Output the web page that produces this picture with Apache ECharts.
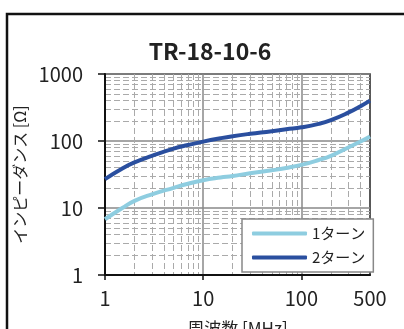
<!DOCTYPE html>
<html>
<head>
<meta charset="utf-8">
<script src="https://cdn.jsdelivr.net/npm/echarts@6/dist/echarts.min.js"></script>
<style>
  html, body { margin: 0; padding: 0; background: #fff; }
  #chart { width: 404px; height: 329px; }
</style>
</head>
<body>
<div id="chart"></div>
<script>
// 周波数 [MHz]
var freq = [1, 1.5, 2, 3, 5, 7, 10, 15, 20, 30, 50, 70, 100, 150, 200, 300, 400, 500];
// インピーダンス [Ω]
var turn1 = [6.8, 10, 12.8, 16, 20, 23, 26, 28.5, 30, 33, 36.5, 39.5, 44, 52, 60, 80, 98, 117];
var turn2 = [27, 39, 48, 60, 77, 87, 98, 110, 118, 128, 140, 150, 160, 180, 205, 265, 330, 400];

var xMajor = [1, 10, 100];
var xLabels = [1, 10, 100, 500];
var xMinor = [2, 3, 4, 5, 6, 7, 8, 9, 20, 30, 40, 50, 60, 70, 80, 90, 200, 300, 400];
var yMajor = [1, 10, 100, 1000];
var yMinor = [2, 3, 4, 5, 6, 7, 8, 9, 20, 30, 40, 50, 60, 70, 80, 90, 200, 300, 400, 500, 600, 700, 800, 900];

var font = '"Noto Sans CJK JP", "Noto Sans", sans-serif';

function pairs(xs, ys) {
    return xs.map(function (x, i) { return [x, ys[i]]; });
}

function plain(v) {
    return String(v);
}

var myChart = echarts.init(document.getElementById('chart'));

var option = {
    animation: false,
    title: {
        text: 'TR-18-10-6',
        left: 205,
        top: 35,
        textAlign: 'center',
        textStyle: { fontFamily: font, fontSize: 23, fontWeight: 'bold', color: '#222' }
    },
    graphic: [{
        type: 'rect',
        shape: { x: 7, y: 14, width: 500, height: 400 },
        style: { fill: 'none', stroke: '#111', lineWidth: 2.5 },
        silent: true
    }],
    grid: {
        left: 105, right: 34, top: 74, bottom: 54,
        outerBoundsMode: 'none',
        containLabel: false,
        show: true, borderColor: '#222', borderWidth: 1.5
    },
    legend: {
        orient: 'vertical',
        left: 242,
        top: 219,
        backgroundColor: '#fff',
        borderColor: '#888',
        borderWidth: 1.5,
        borderRadius: 0,
        padding: [7, 8, 7, 10],
        itemGap: 9,
        itemWidth: 55,
        itemHeight: 4,
        icon: 'roundRect',
        textStyle: { fontFamily: font, fontSize: 15, color: '#222' },
        data: ['1ターン', '2ターン']
    },
    xAxis: [{
        type: 'log',
        min: 1,
        max: 500,
        name: '周波数 [MHz]',
        nameLocation: 'middle',
        nameGap: 45,
        nameTextStyle: { fontFamily: font, fontSize: 17, color: '#222' },
        axisLine: { lineStyle: { color: '#111', width: 2 } },
        axisTick: { show: true, length: 5, lineStyle: { color: '#111', width: 1.5 }, customValues: xMajor },
        axisLabel: { fontFamily: font, fontSize: 20, color: '#222', margin: 13, customValues: xLabels, formatter: plain },
        splitLine: { show: true, lineStyle: { color: '#888', width: 1.5 } }
    }, {
        type: 'log',
        min: 1,
        max: 500,
        axisLine: { show: false },
        axisTick: { show: false, customValues: xMinor },
        axisLabel: { show: false, customValues: xMinor },
        splitLine: { show: true, lineStyle: { color: '#aaa', width: 1, type: [6, 3] } }
    }],
    yAxis: [{
        type: 'log',
        min: 1,
        max: 1000,
        name: 'インピーダンス [Ω]',
        nameLocation: 'middle',
        nameGap: 72,
        nameTextStyle: { fontFamily: font, fontSize: 16, color: '#222' },
        axisLine: { show: true, lineStyle: { color: '#111', width: 2 } },
        axisTick: { show: true, length: 7, lineStyle: { color: '#111', width: 1.5 }, customValues: yMajor },
        axisLabel: { fontFamily: font, fontSize: 20, color: '#222', margin: 22, customValues: yMajor, formatter: plain },
        splitLine: { show: true, lineStyle: { color: '#888', width: 1.5 } }
    }, {
        type: 'log',
        min: 1,
        max: 1000,
        axisLine: { show: false },
        axisTick: { show: false, customValues: yMinor },
        axisLabel: { show: false, customValues: yMinor },
        splitLine: { show: true, lineStyle: { color: '#aaa', width: 1, type: [6, 3] } }
    }],
    series: [{
        name: '1ターン',
        type: 'line',
        smooth: true,
        symbol: 'none',
        z: 5,
        lineStyle: { color: '#8ecde0', width: 4 },
        itemStyle: { color: '#8ecde0' },
        data: pairs(freq, turn1)
    }, {
        name: '2ターン',
        type: 'line',
        smooth: true,
        symbol: 'none',
        z: 5,
        lineStyle: { color: '#2a4f9f', width: 4 },
        itemStyle: { color: '#2a4f9f' },
        data: pairs(freq, turn2)
    }]
};

myChart.setOption(option);
</script>
</body>
</html>
